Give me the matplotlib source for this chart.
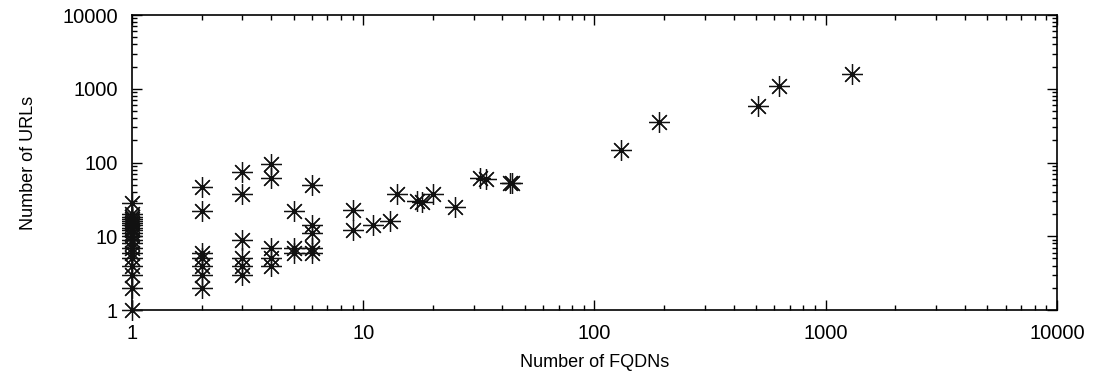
import matplotlib
matplotlib.use("Agg")
import matplotlib.pyplot as plt
from matplotlib.ticker import FuncFormatter, LogLocator

# number of FQDNs vs number of URLs
fqdns = [1] * 20 + [2] * 7 + [3] * 6 + [4] * 5 + [5] * 3 + [6] * 5 + \
        [9, 9, 11, 13, 14, 17, 18, 20, 25, 32, 34, 43, 44,
         130, 190, 510, 630, 1300]
urls = [1, 2, 3, 4, 5, 6, 7, 8, 9, 10, 11, 12, 13, 14, 15, 16, 17, 18, 20, 28] + \
       [2, 3, 4, 5, 6, 22, 47] + \
       [3, 4, 5, 9, 38, 75] + \
       [4, 5, 7, 62, 95] + \
       [6, 7, 22] + \
       [6, 7, 11, 14, 49] + \
       [12, 23, 14, 16, 38, 30, 29, 38, 25, 62, 60, 52, 52,
        150, 350, 590, 1100, 1600]

plt.rcParams["font.family"] = ["Liberation Sans", "DejaVu Sans"]

fig = plt.figure(figsize=(10.97, 3.76), dpi=100)
ax = fig.add_axes([0.1203, 0.1755, 0.8432, 0.7845])

# gnuplot style asterisk (+ and x combined)
ax.plot(fqdns, urls, linestyle="none", marker=(8, 2, 0), markersize=15,
        markeredgewidth=0.9, color="#111111", clip_on=False, zorder=3)

ax.set_xscale("log")
ax.set_yscale("log")
ax.set_xlim(1, 10000)
ax.set_ylim(1, 10000)

fmt = FuncFormatter(lambda v, p: "%d" % round(v))
ax.xaxis.set_major_formatter(fmt)
ax.yaxis.set_major_formatter(fmt)
ax.xaxis.set_major_locator(LogLocator(base=10))
ax.yaxis.set_major_locator(LogLocator(base=10))

ax.tick_params(which="both", direction="in", top=True, right=True,
               labelsize=14.5, width=1.0)
ax.tick_params(which="major", length=7)
ax.tick_params(which="minor", length=3.5)
ax.tick_params(axis="x", which="major", pad=10)
ax.tick_params(axis="y", which="major", pad=10)
for s in ax.spines.values():
    s.set_linewidth(1.2)

ax.set_xlabel("Number of FQDNs", fontsize=13, labelpad=8)
ax.set_ylabel("Number of URLs", fontsize=13, labelpad=18)

fig.savefig("out.png", dpi=100)
